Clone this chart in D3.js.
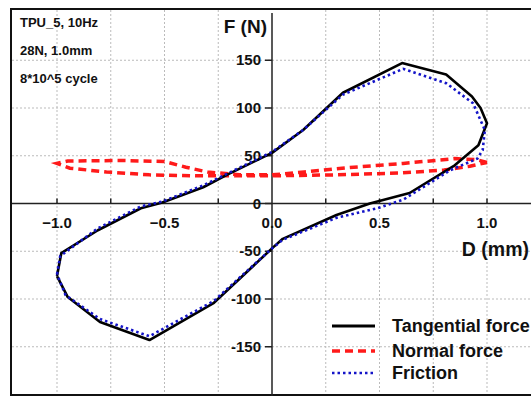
<!DOCTYPE html>
<html><head><meta charset="utf-8">
<script src="https://cdn.jsdelivr.net/npm/d3@7"></script>
<style>
html,body{margin:0;padding:0;background:#fff;}
svg text{font-family:"Liberation Sans",Arial,sans-serif;font-weight:bold;fill:#111;}
</style></head>
<body>
<svg id="c" width="531" height="397"></svg>
<script>
// ---- data ----
const tangentialD = [-1.0,-0.98,-0.81,-0.61,-0.51,-0.32,-0.21,0,0.145,0.33,0.605,0.81,0.93,0.97,1.0,0.96,0.85,0.64,0.455,0.30,0.05,0,-0.27,-0.57,-0.8,-0.95,-1.0];
const tangentialF = [-76,-52,-28,-5,1,17,30,53,77,116,147,135,112,100,84,61,40,11,0,-12,-37,-47,-104,-143,-124,-98,-76];
const frictionD = [-1.0,-0.985,-0.81,-0.61,-0.51,-0.32,-0.21,0,0.145,0.33,0.61,0.81,0.935,0.99,0.98,0.955,0.83,0.61,0.49,0.30,0.05,0,-0.27,-0.57,-0.8,-0.96,-1.0];
const frictionF = [-74,-55,-26,-3,2,19,31,54,77,114,141,126,105,77,56,47,35,4,-5,-15,-38,-47,-102,-139,-121,-96,-74];
const normalD = [1.0,0.95,0.85,0.61,0.38,0.15,0,-0.15,-0.3,-0.4,-0.5,-0.7,-0.95,-1.0,-0.94,-0.77,-0.57,-0.35,0,0.3,0.6,0.8,0.92,1.0];
const normalF = [43,46,47,42,38,33,30,30,33,38,44,45,44.5,42,37,33,30,29,29,30,32,35,39,43];
const xTicks = [-1.0,-0.5,0.0,0.5,1.0];
const xMinor = [-1.0,-0.75,-0.5,-0.25,0.25,0.5,0.75,1.0];
const yTicks = [-150,-100,-50,0,50,100,150];
const seriesNames = ["Tangential force","Normal force","Friction"];
const notes = ["TPU_5, 10Hz","28N, 1.0mm","8*10^5 cycle"];

const svg = d3.select("#c");
const x = d3.scaleLinear().domain([-1,1]).range([57,487]);
const y = d3.scaleLinear().domain([-150,150]).range([346.75,60.25]);

// grid
const grid = svg.append("g").attr("stroke","#bbb").attr("stroke-width",1).attr("stroke-dasharray","2,2");
xMinor.forEach(v=>grid.append("line").attr("x1",x(v)).attr("x2",x(v)).attr("y1",10).attr("y2",395));
yTicks.filter(v=>v!==0).forEach(v=>grid.append("line").attr("x1",12).attr("x2",531).attr("y1",y(v)).attr("y2",y(v)));

// frame
svg.append("rect").attr("x",11).attr("y",9).attr("width",540).attr("height",386)
  .attr("fill","none").attr("stroke","#111").attr("stroke-width",2);

// axes lines
svg.append("line").attr("x1",12).attr("x2",531).attr("y1",y(0)).attr("y2",y(0)).attr("stroke","#222").attr("stroke-width",1.5);
svg.append("line").attr("x1",x(0)).attr("x2",x(0)).attr("y1",13).attr("y2",396).attr("stroke","#222").attr("stroke-width",1.5);

// x ticks (upward)
xMinor.forEach(v=>svg.append("line").attr("x1",x(v)).attr("x2",x(v)).attr("y1",y(0)).attr("y2",y(0)-5).attr("stroke","#222").attr("stroke-width",1.5));
xTicks.forEach(v=>svg.append("text").attr("x",x(v)).attr("y",228).attr("text-anchor","middle").attr("font-size",15).text(d3.format(".1f")(v)));

// y ticks
yTicks.forEach(v=>{
  svg.append("line").attr("x1",x(0)-7).attr("x2",x(0)).attr("y1",y(v)).attr("y2",y(v)).attr("stroke","#222").attr("stroke-width",1.5);
  svg.append("text").attr("x",x(0)-11).attr("y",y(v)+5).attr("text-anchor","end").attr("font-size",15).text(v);
});

svg.append("text").attr("x",267).attr("y",33).attr("text-anchor","end").attr("font-size",19).text("F (N)");
svg.append("text").attr("x",529).attr("y",256).attr("text-anchor","end").attr("font-size",19.5).text("D (mm)");

notes.forEach((t,i)=>svg.append("text").attr("x",20).attr("y",27+i*28).attr("font-size",13).text(t));

const line = d3.line().x(d=>x(d[0])).y(d=>y(d[1]));
const zip=(a,b)=>a.map((v,i)=>[v,b[i]]);

const styles = [
  {stroke:"#000",w:2.6,dash:null},
  {stroke:"#ff1a1a",w:3.5,dash:"8,5"},
  {stroke:"#1414c8",w:2.6,dash:"2.5,3"}
];
svg.append("path").datum(zip(normalD,normalF)).attr("d",line).attr("fill","none")
  .attr("stroke",styles[1].stroke).attr("stroke-width",styles[1].w).attr("stroke-dasharray",styles[1].dash);
svg.append("path").datum(zip(tangentialD,tangentialF)).attr("d",line).attr("fill","none")
  .attr("stroke",styles[0].stroke).attr("stroke-width",styles[0].w).attr("stroke-linejoin","round");
svg.append("path").datum(zip(frictionD,frictionF)).attr("d",line).attr("fill","none")
  .attr("stroke",styles[2].stroke).attr("stroke-width",styles[2].w).attr("stroke-dasharray",styles[2].dash);

// legend
const ly=[326,351,373];
seriesNames.forEach((n,i)=>{
  svg.append("line").attr("x1",332).attr("x2",375).attr("y1",ly[i]).attr("y2",ly[i])
    .attr("stroke",styles[i].stroke).attr("stroke-width",i===0?3:styles[i].w).attr("stroke-dasharray",styles[i].dash);
  svg.append("text").attr("x",392).attr("y",ly[i]+6).attr("font-size",18).text(n);
});
</script>
</body></html>
